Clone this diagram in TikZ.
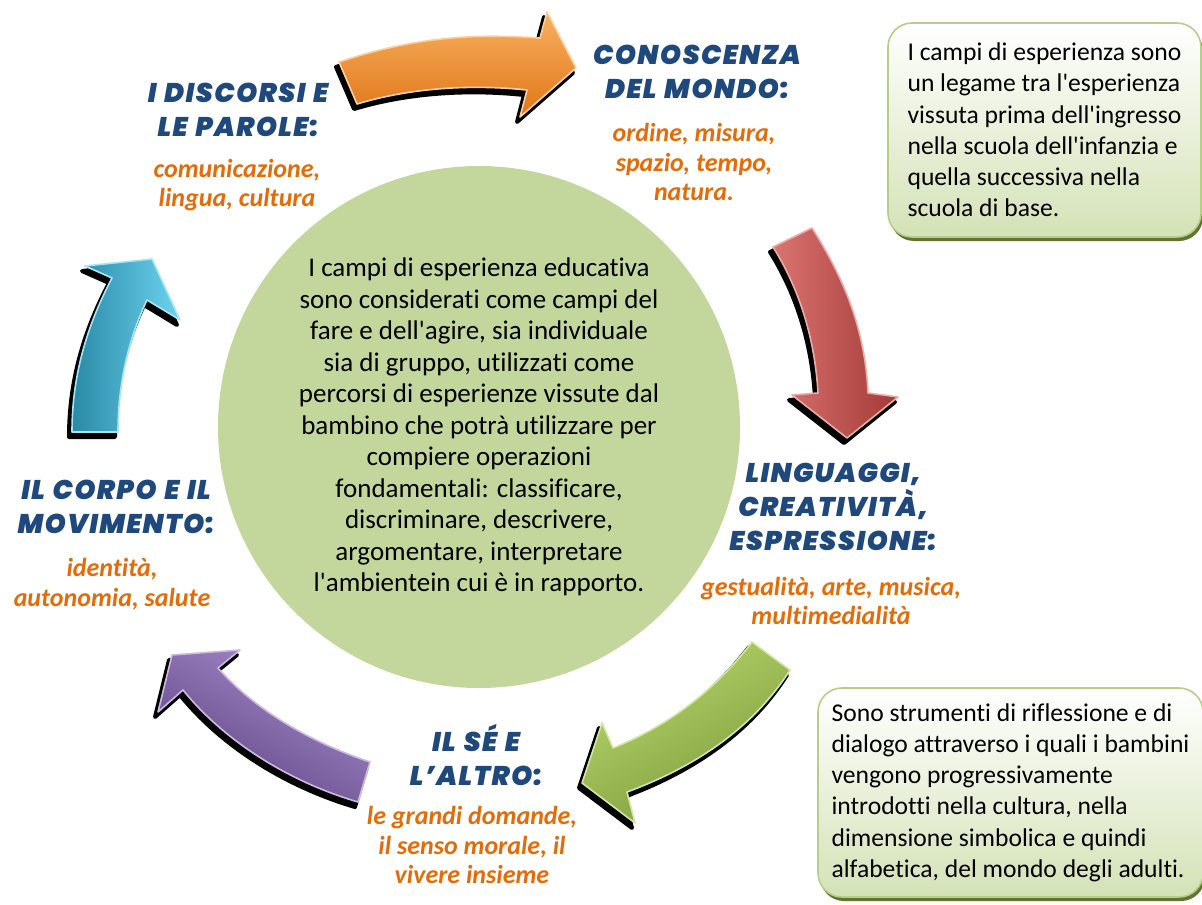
\documentclass[tikz,border=0pt]{standalone}
\usepackage{fontspec}
\setmainfont{Carlito}[Ligatures={TeXOff,CommonOff}]
\newfontfamily\headfont{Poppins Black Italic}[LetterSpace=5,WordSpace=1.3]
\usetikzlibrary{shadows}

\definecolor{headblue}{HTML}{1F497D}
\definecolor{suborange}{HTML}{E36C09}
\definecolor{coregreen}{HTML}{C3D69B}
\definecolor{noteline}{HTML}{B7CE8A}
\definecolor{notefill}{HTML}{D4E2B6}
\definecolor{noteshade}{HTML}{5F7530}
\definecolor{orglight}{HTML}{F8B060}
\definecolor{orgdark}{HTML}{E07618}
\definecolor{redlight}{HTML}{DA7471}
\definecolor{reddark}{HTML}{A33A37}
\definecolor{grnlight}{HTML}{B8D56C}
\definecolor{grndark}{HTML}{7C9C3C}
\definecolor{purlight}{HTML}{A88CCB}
\definecolor{purdark}{HTML}{5E4484}
\definecolor{blulight}{HTML}{6CD3EE}
\definecolor{bludark}{HTML}{2A8AA6}

% curved block arrow: light colour, dark colour, shading angle, path
\newcommand{\ringarrow}[4]{%
  \path[arrshadow] #4;
  \path[top color=#1, bottom color=#2, shading angle=#3,
        draw=#1!60!white, line width=0.8pt, line join=round] #4;
}

\begin{document}
\begin{tikzpicture}[x=0.5pt, y=-0.5pt,
    arrshadow/.style={fill=black, draw=black, line width=2pt, line join=round,
                      xshift=-1.5pt, yshift=-2.5pt},
    head/.style={font=\headfont\fontsize{13.5}{17}\selectfont,
                 text=headblue, align=center, inner sep=0pt},
    sub/.style={font=\bfseries\itshape\fontsize{13}{14.8}\selectfont,
                text=suborange, align=center, inner sep=0pt},
    note/.style={rounded corners=12pt, draw=noteline, line width=0.8pt,
                 top color=white, bottom color=notefill, align=left,
                 font=\fontsize{12.8}{15.6}\selectfont,
                 general shadow={fill=noteshade, shadow xshift=1pt, shadow yshift=-2pt}}]
  \useasboundingbox (0,0) rectangle (1202,904);

  \node[circle, fill=coregreen, minimum size=261pt, inner sep=0pt, align=center,
        font=\fontsize{13.5}{15.75}\selectfont] (core) at (479,427)
    {I campi di esperienza educativa\\
     sono considerati come campi del\\
     fare e dell'agire, sia individuale\\
     sia di gruppo, utilizzati come\\
     percorsi di esperienze vissute dal\\
     bambino che potrà utilizzare per\\
     compiere operazioni\\
     fondamentali: classificare,\\
     discriminare, descrivere,\\
     argomentare, interpretare\\
     l'ambientein cui è in rapporto.};

  % the five arrows of the cycle
  \ringarrow{orglight}{orgdark}{0}{(339,62) .. controls (420,35) and (480,34) .. (540,38)
    -- (547,12) -- (576,68) -- (520,117) -- (527,90)
    .. controls (470,84) and (410,88) .. (357,104) -- cycle}
  \ringarrow{redlight}{reddark}{90}{(812,228) .. controls (845,280) and (865,330) .. (868,393)
    -- (898,397) -- (847,438) -- (792,395) -- (818,393)
    .. controls (815,340) and (800,290) .. (773,247) -- cycle}
  \ringarrow{grnlight}{grndark}{30}{(752,642) .. controls (715,690) and (670,725) .. (613,748)
    -- (602,723) -- (582,783) -- (635,823) -- (627,792)
    .. controls (700,765) and (755,725) .. (790,670) -- cycle}
  \ringarrow{purlight}{purdark}{-30}{(370,762) .. controls (310,742) and (255,710) .. (218,668)
    -- (240,650) -- (172,655) -- (158,712) -- (183,690)
    .. controls (225,742) and (290,782) .. (358,802) -- cycle}
  \ringarrow{blulight}{bludark}{-90}{(72,432) .. controls (72,370) and (90,320) .. (112,278)
    -- (85,266) -- (152,259) -- (180,320) -- (147,300)
    .. controls (128,340) and (118,385) .. (118,432) -- cycle}

  \node[head] (discorsi) at (238,110) {I DISCORSI E\\LE PAROLE:};
  \node[sub] (discorsisub) at (237,185) {comunicazione,\\lingua, cultura};
  \node[head] (mondo) at (697,72) {CONOSCENZA\\DEL MONDO:};
  \node[sub] (mondosub) at (694,162) {ordine, misura,\\spazio, tempo,\\natura.};
  \node[head] (linguaggi) at (833,507) {LINGUAGGI,\\CREATIVITÀ,\\ESPRESSIONE:};
  \node[sub] (linguaggisub) at (831,601) {gestualità, arte, musica,\\multimedialità};
  \node[head] (altro) at (476,755) {IL SÉ E\\L’ALTRO:};
  \node[sub] (altrosub) at (472,845) {le grandi domande,\\il senso morale, il\\vivere insieme};
  \node[head] (corpo) at (116,507) {IL CORPO E IL\\MOVIMENTO:};
  \node[sub] (corposub) at (112,584) {identità,\\autonomia, salute};

  \node[note, minimum width=156.5pt, minimum height=107pt] (legame) at (1044.5,130)
    {I campi di esperienza sono\\
     un legame tra l'esperienza\\
     vissuta prima dell'ingresso\\
     nella scuola dell'infanzia e\\
     quella successiva nella\\
     scuola di base.};
  \node[note, minimum width=192.5pt, minimum height=104.5pt] (strumenti) at (1010.5,792.5)
    {Sono strumenti di riflessione e di\\
     dialogo attraverso i quali i bambini\\
     vengono progressivamente\\
     introdotti nella cultura, nella\\
     dimensione simbolica e quindi\\
     alfabetica, del mondo degli adulti.};
\end{tikzpicture}
\end{document}
